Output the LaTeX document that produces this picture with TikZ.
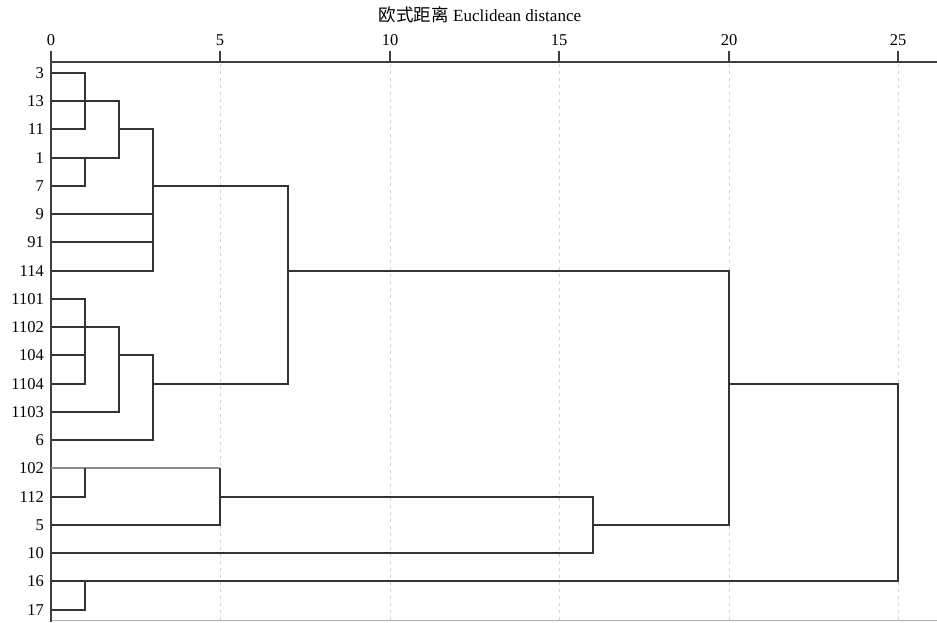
\documentclass[tikz,border=0pt]{standalone}
\usepackage{fontspec}
\setmainfont{Liberation Serif}
\newfontfamily\cjk{Noto Sans CJK SC}
\begin{document}
\begin{tikzpicture}[x=1pt,y=-1pt,
  lbl/.style={anchor=east,inner sep=0pt,font=\fontsize{16.5}{18}\selectfont},
  tick/.style={anchor=center,inner sep=0pt,font=\fontsize{16.5}{18}\selectfont},
  dend/.style={draw=black!80,line width=2pt},
  dendlight/.style={draw=black!45,line width=1.6pt},
  axisline/.style={draw=black!75,line width=2pt},
  gridline/.style={draw=black!18,line width=1pt,dash pattern=on 3pt off 4pt}]
\useasboundingbox (0,0) rectangle (937,622);
% title
\node[inner sep=0pt,font=\fontsize{17}{18}\selectfont] (title) at (480,15) {{\cjk\fontsize{17.5}{18}\selectfont 欧式距离} Euclidean distance};
% columns
\coordinate (c0) at (51,0);
\coordinate (c1) at (85,0);
\coordinate (c2) at (119,0);
\coordinate (c3) at (153,0);
\coordinate (c5) at (220,0);
\coordinate (c7) at (288,0);
\coordinate (c10) at (390,0);
\coordinate (c15) at (559,0);
\coordinate (c16) at (593,0);
\coordinate (c20) at (729,0);
\coordinate (c25) at (898,0);
% grid
\foreach \c in {c5,c10,c15,c20,c25}{
  \draw[gridline] (\c |- 0,64) -- (\c |- 0,622);
}
\draw[draw=black!30,line width=1pt] (51,620.5) -- (937,620.5);
% axis
\draw[axisline] (51,62) -- (937,62);
\draw[axisline] (51,51) -- (51,622);
\foreach \c in {c5,c10,c15,c20,c25}{
  \draw[axisline] (\c |- 0,51) -- (\c |- 0,62);
}
\node[tick] (t0) at (51,40) {0};
\node[tick] (t5) at (220,40) {5};
\node[tick] (t10) at (390,40) {10};
\node[tick] (t15) at (559,40) {15};
\node[tick] (t20) at (729,40) {20};
\node[tick] (t25) at (898,40) {25};
% leaves
\coordinate (p3) at (51,73);
\coordinate (p13) at (51,101);
\coordinate (p11) at (51,129);
\coordinate (p1) at (51,158);
\coordinate (p7) at (51,186);
\coordinate (p9) at (51,214);
\coordinate (p91) at (51,242);
\coordinate (p114) at (51,271);
\coordinate (p1101) at (51,299);
\coordinate (p1102) at (51,327);
\coordinate (p104) at (51,355);
\coordinate (p1104) at (51,384);
\coordinate (p1103) at (51,412);
\coordinate (p6) at (51,440);
\coordinate (p102) at (51,468);
\coordinate (p112) at (51,497);
\coordinate (p5) at (51,525);
\coordinate (p10) at (51,553);
\coordinate (p16) at (51,581);
\coordinate (p17) at (51,610);
\foreach \n in {3,13,11,1,7,9,91,114,1101,1102,104,1104,1103,6,102,112,5,10,16,17}{
  \node[lbl] (l\n) at ([xshift=-7pt]p\n) {\n};
}
% cluster A
\draw[dend] (p3) -- (p3-|c1) -- (p11-|c1) -- (p11);
\draw[dend] (p13) -- (p13-|c2) -- (p1-|c2) -- (p1);
\draw[dend] (p7) -- (p7-|c1) -- (p1-|c1);
\draw[dend] (p11-|c2) -- (p11-|c3) -- (p114-|c3) -- (p114);
\draw[dend] (p9) -- (p9-|c3);
\draw[dend] (p91) -- (p91-|c3);
\draw[dend] (p7-|c3) -- (p7-|c7) -- (p1104-|c7) -- (p1104-|c3);
% cluster B
\draw[dend] (p1101) -- (p1101-|c1) -- (p1104-|c1) -- (p1104);
\draw[dend] (p104) -- (p104-|c1);
\draw[dend] (p1102) -- (p1102-|c2) -- (p1103-|c2) -- (p1103);
\draw[dend] (p104-|c2) -- (p104-|c3) -- (p6-|c3) -- (p6);
% merge A-B with C
\draw[dend] (p114-|c7) -- (p114-|c20) -- (p5-|c20) -- (p5-|c16);
% cluster C
\draw[dendlight] (p102) -- (p102-|c5);
\draw[dend] (p102-|c5) -- (p5-|c5) -- (p5);
\draw[dend] (p112) -- (p112-|c1) -- (p102-|c1);
\draw[dend] (p112-|c5) -- (p112-|c16) -- (p10-|c16) -- (p10);
% top merge
\draw[dend] (p1104-|c20) -- (p1104-|c25) -- (p16-|c25) -- (p16);
\draw[dend] (p17) -- (p17-|c1) -- (p16-|c1);
\end{tikzpicture}
\end{document}
